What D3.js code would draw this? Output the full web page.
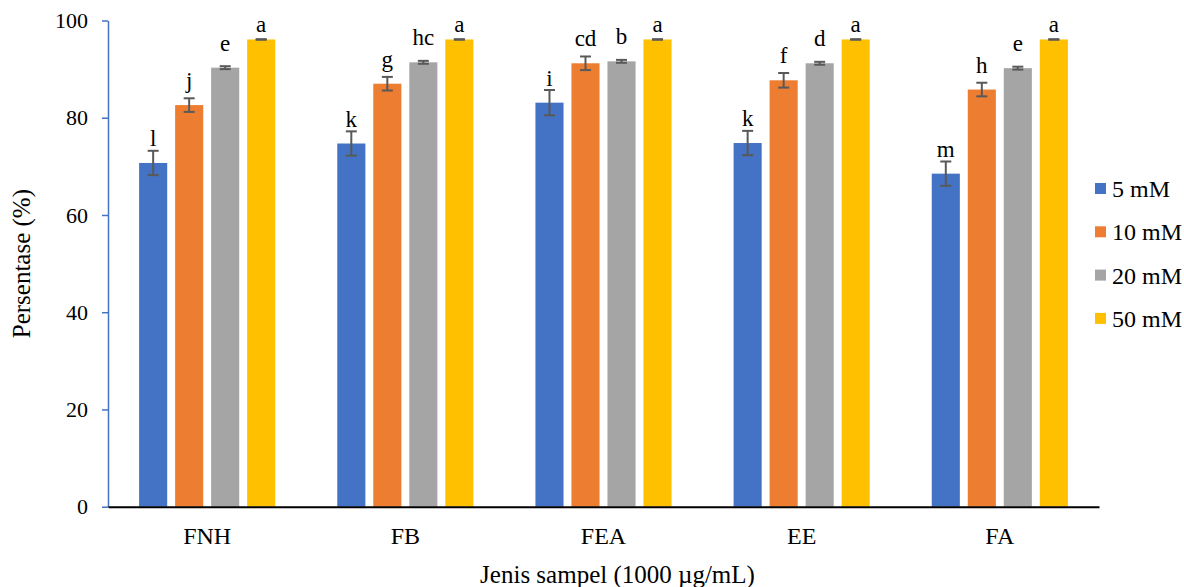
<!DOCTYPE html>
<html>
<head>
<meta charset="utf-8">
<script src="https://cdn.jsdelivr.net/npm/d3@7"></script>
<style>
  body { margin: 0; background: #fff; }
  svg text { font-family: "Liberation Serif", "Times New Roman", serif; fill: #000; }
</style>
</head>
<body>
<div id="chart"></div>
<script>

// data

var categories = ["FNH", "FB", "FEA", "EE", "FA"];
var series = ["5 mM", "10 mM", "20 mM", "50 mM"];

var mean5  = [70.7, 74.7, 83.1, 74.8, 68.5];
var mean10 = [82.6, 87.0, 91.2, 87.7, 85.8];
var mean20 = [90.3, 91.4, 91.6, 91.2, 90.2];
var mean50 = [96.1, 96.1, 96.1, 96.1, 96.1];

var err5  = [2.5, 2.5, 2.6, 2.5, 2.5];
var err10 = [1.4, 1.4, 1.4, 1.5, 1.4];
var err20 = [0.3, 0.3, 0.3, 0.3, 0.3];
var err50 = [0.05, 0.05, 0.05, 0.05, 0.05];

var letters5  = ["l", "k", "i", "k", "m"];
var letters10 = ["j", "g", "cd", "f", "h"];
var letters20 = ["e", "hc", "b", "d", "e"];
var letters50 = ["a", "a", "a", "a", "a"];

var yTicks = [0, 20, 40, 60, 80, 100];

var xTitle = "Jenis sampel (1000 \u00b5g/mL)",
    yTitle = "Persentase (%)";

// build rows from the arrays

var means = [mean5, mean10, mean20, mean50],
    errs = [err5, err10, err20, err50],
    letters = [letters5, letters10, letters20, letters50];

var rows = [];
categories.forEach(function(c, i) {
  series.forEach(function(s, j) {
    rows.push({ cat: c, ser: s, si: j, value: means[j][i], err: errs[j][i], letter: letters[j][i] });
  });
});

// sizes

var width = 1184,
    height = 587,
    tickSize = 22,
    fontSize = 24,
    colors = ["#4472C4", "#ED7D31", "#A5A5A5", "#FFC000"],
    labelGap = [17, 17, 17, 7];

// scales

var x0 = d3.scaleBand()
  .domain(categories)
  .range([108, 1099])
  .paddingInner(0.313)
  .paddingOuter(0.157);

var x1 = d3.scaleBand()
  .domain(series)
  .range([0, x0.bandwidth()])
  .paddingInner(0.22);

var y = d3.scaleLinear()
  .domain([0, 100])
  .range([506.7, 20.5]);

var color = d3.scaleOrdinal()
  .domain(series)
  .range(colors);

// append svg

var svg = d3.select("#chart").append("svg")
  .attr("width", width)
  .attr("height", height);

svg.append("rect")
  .attr("width", width)
  .attr("height", height)
  .attr("fill", "#fff");

// y axis

var yAxis = svg.append("g")
  .attr("transform", "translate(" + x0.range()[0] + ",0)")
  .call(d3.axisLeft(y).tickValues(yTicks).tickSize(6).tickSizeOuter(0).tickPadding(14));

yAxis.select(".domain").attr("stroke", "#4472C4").attr("stroke-width", 1.5);
yAxis.selectAll(".tick line").attr("stroke", "#4472C4").attr("stroke-width", 1.5);
yAxis.selectAll(".tick text")
  .attr("font-size", tickSize)
  .attr("font-family", "Liberation Serif")
  .attr("fill", "#000");

// bars

svg.append("g")
  .selectAll("rect")
  .data(rows)
  .enter()
    .append("rect")
      .attr("x", function(d) { return x0(d.cat) + x1(d.ser); })
      .attr("y", function(d) { return y(d.value); })
      .attr("width", x1.bandwidth())
      .attr("height", function(d) { return y(0) - y(d.value); })
      .attr("fill", function(d) { return color(d.ser); });

// error bars

var eb = svg.append("g")
  .selectAll("g")
  .data(rows)
  .enter()
    .append("g")
      .attr("stroke", "#595959")
      .attr("stroke-width", 2);

function cx(d) { return x0(d.cat) + x1(d.ser) + x1.bandwidth() / 2; }

eb.append("line")
  .attr("x1", cx).attr("x2", cx)
  .attr("y1", function(d) { return y(d.value + d.err); })
  .attr("y2", function(d) { return y(d.value - d.err); });

eb.append("line")
  .attr("x1", function(d) { return cx(d) - 5.5; })
  .attr("x2", function(d) { return cx(d) + 5.5; })
  .attr("y1", function(d) { return y(d.value + d.err); })
  .attr("y2", function(d) { return y(d.value + d.err); });

eb.append("line")
  .attr("x1", function(d) { return cx(d) - 5.5; })
  .attr("x2", function(d) { return cx(d) + 5.5; })
  .attr("y1", function(d) { return y(d.value - d.err); })
  .attr("y2", function(d) { return y(d.value - d.err); });

// significance letters

svg.append("g")
  .selectAll("text")
  .data(rows)
  .enter()
    .append("text")
      .attr("x", cx)
      .attr("y", function(d) { return y(d.value) - labelGap[d.si]; })
      .attr("text-anchor", "middle")
      .attr("font-size", 23)
      .text(function(d) { return d.letter; });

// x axis

var xAxis = svg.append("g")
  .attr("transform", "translate(0," + y(0) + ")")
  .call(d3.axisBottom(x0).tickSize(0).tickSizeOuter(0).tickPadding(20));

xAxis.select(".domain").attr("stroke", "#000").attr("stroke-width", 2);
xAxis.selectAll(".tick text")
  .attr("font-size", fontSize)
  .attr("font-family", "Liberation Serif")
  .attr("fill", "#000");

// axis titles

svg.append("text")
  .attr("x", (x0.range()[0] + x0.range()[1]) / 2 + 14)
  .attr("y", 583)
  .attr("text-anchor", "middle")
  .attr("font-size", 25)
  .text(xTitle);

svg.append("text")
  .attr("transform", "translate(30," + (y(50)) + ") rotate(-90)")
  .attr("text-anchor", "middle")
  .attr("font-size", 25)
  .text(yTitle);

// legend

var legend = svg.append("g")
  .selectAll("g")
  .data(series)
  .enter()
    .append("g")
      .attr("transform", function(d, i) { return "translate(1095," + (188.5 + i * 43.3) + ")"; });

legend.append("rect")
  .attr("x", 0)
  .attr("y", -5.5)
  .attr("width", 11)
  .attr("height", 11)
  .attr("fill", function(d) { return color(d); });

legend.append("text")
  .attr("x", 17)
  .attr("dy", "0.35em")
  .attr("font-size", fontSize)
  .text(function(d) { return d; });

</script>
</body>
</html>
